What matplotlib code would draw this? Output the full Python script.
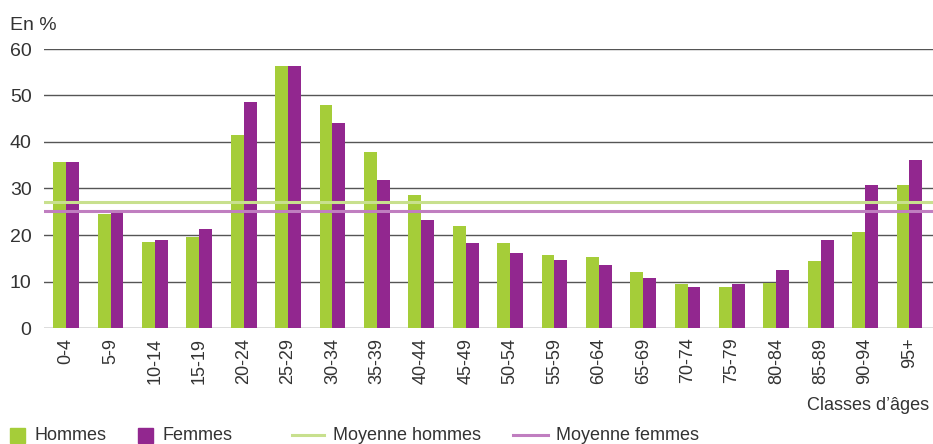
import matplotlib
matplotlib.use("Agg")
import numpy as np
import matplotlib.pyplot as plt
from matplotlib.lines import Line2D
from matplotlib.patches import Rectangle

# Age classes and rates (%)
age_classes = ["0-4", "5-9", "10-14", "15-19", "20-24", "25-29", "30-34", "35-39",
               "40-44", "45-49", "50-54", "55-59", "60-64", "65-69", "70-74", "75-79",
               "80-84", "85-89", "90-94", "95+"]
hommes = [35.7, 24.6, 18.5, 19.6, 41.5, 56.3, 48.0, 37.9, 28.6, 22.0,
          18.3, 15.7, 15.3, 12.1, 9.5, 8.9, 9.7, 14.5, 20.7, 30.8]
femmes = [35.7, 24.8, 19.0, 21.3, 48.6, 56.3, 44.1, 31.9, 23.3, 18.3,
          16.2, 14.7, 13.6, 10.8, 8.9, 9.5, 12.5, 19.0, 30.8, 36.1]
moyenne_hommes = 27.1
moyenne_femmes = 25.2
y_ticks = [0, 10, 20, 30, 40, 50, 60]

GREEN = "#A5CD39"
PURPLE = "#92278F"
LIGHT_GREEN = "#C8E08E"
LIGHT_PURPLE = "#C07EC0"
TEXT = "#333333"

plt.rcParams['font.family'] = ['Liberation Sans', 'DejaVu Sans']

W, H = 933, 444
fig = plt.figure(figsize=(W / 100, H / 100), dpi=100)
ax = fig.add_axes([44 / W, 116 / H, 889 / W, 279 / H])

x = np.arange(len(age_classes))
w = 0.29
ax.bar(x - w / 2, hommes, width=w, color=GREEN, zorder=3)
ax.bar(x + w / 2, femmes, width=w, color=PURPLE, zorder=3)
ax.axhline(moyenne_hommes, color=LIGHT_GREEN, linewidth=2.2, zorder=4)
ax.axhline(moyenne_femmes, color=LIGHT_PURPLE, linewidth=2.2, zorder=4)

ax.set_xlim(-0.5, 19.53)
ax.set_ylim(0, 60)
ax.set_yticks(y_ticks)
ax.set_yticklabels([str(t) for t in y_ticks], fontsize=14, color=TEXT)
ax.set_xticks(x)
ax.set_xticklabels(age_classes, rotation=90, fontsize=13, color=TEXT)
ax.tick_params(axis='y', length=0, pad=9)
ax.tick_params(axis='x', length=0, pad=7)
ax.grid(axis='y', color='#555555', linewidth=1.0, zorder=0)
for s in ax.spines.values():
    s.set_visible(False)

fig.text(10 / W, 1 - 25 / H, "En %", fontsize=14, color=TEXT, ha='left', va='center')
fig.text(929 / W, 1 - 405 / H, "Classes d\u2019âges", fontsize=13, color=TEXT,
         ha='right', va='center')

# legend laid out by hand to match the irregular spacing
ly = 1 - 435 / H
sq = 15
fig.add_artist(Rectangle((10 / W, ly - sq / 2 / H), sq / W, sq / H, color=GREEN,
                         transform=fig.transFigure))
fig.text(35 / W, ly, "Hommes", fontsize=13, color=TEXT, ha='left', va='center')
fig.add_artist(Rectangle((138 / W, ly - sq / 2 / H), sq / W, sq / H, color=PURPLE,
                         transform=fig.transFigure))
fig.text(162 / W, ly, "Femmes", fontsize=13, color=TEXT, ha='left', va='center')
fig.add_artist(Line2D([292 / W, 324 / W], [ly, ly], color=LIGHT_GREEN, linewidth=2.2,
                      transform=fig.transFigure))
fig.text(333 / W, ly, "Moyenne hommes", fontsize=13, color=TEXT, ha='left', va='center')
fig.add_artist(Line2D([513 / W, 548 / W], [ly, ly], color=LIGHT_PURPLE, linewidth=2.2,
                      transform=fig.transFigure))
fig.text(556 / W, ly, "Moyenne femmes", fontsize=13, color=TEXT, ha='left', va='center')

fig.savefig("out.png", dpi=100)
